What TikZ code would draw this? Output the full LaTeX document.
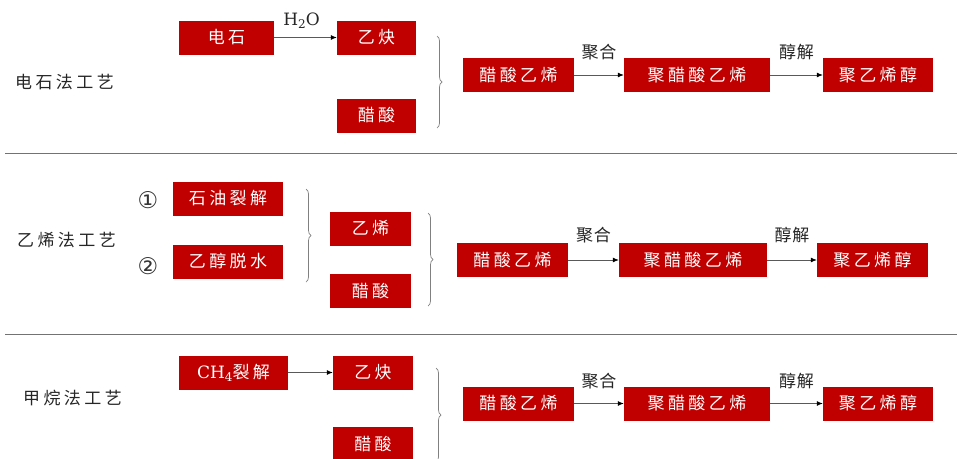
\documentclass[tikz,border=0pt]{standalone}
\usepackage{fontspec}
\newfontfamily\cjk[LetterSpace=20]{Noto Sans CJK SC}
\newfontfamily\cjklbl[LetterSpace=5]{Noto Sans CJK SC}
\newfontfamily\dejavu{DejaVu Sans}
\newfontfamily\lserif{DejaVu Serif}
\usetikzlibrary{arrows.meta,decorations.pathreplacing}
\definecolor{boxred}{HTML}{C00000}
\begin{document}
\begin{tikzpicture}[x=1pt,y=-1pt,
  box/.style={fill=boxred, text=white, inner sep=0pt, minimum height=34pt, font=\cjk\fontsize{17}{17}\selectfont},
  lbl/.style={text=black!85, inner sep=0pt, font=\cjklbl\fontsize{17}{17}\selectfont},
  ttl/.style={text=black!85, inner sep=0pt, font=\cjk\fontsize{17}{17}\selectfont},
  circ/.style={text=black!80, inner sep=0pt, font=\dejavu\fontsize{23}{23}\selectfont},
  arr/.style={draw=black!65, line width=0.8pt, -{Latex[length=6pt,width=5pt,color=black]}},
  brc/.style={draw=black!50, line width=0.7pt, decorate, decoration={brace, amplitude=5pt}},
  sep/.style={draw=black!55, line width=0.8pt}]
\clip (0,0) rectangle (957,458);
\fill[white] (0,0) rectangle (957,458);

% separators
\coordinate (s1a) at (5,153); \coordinate (s1b) at (957,153);
\coordinate (s2a) at (5,334); \coordinate (s2b) at (957,334);
\draw[sep] (s1a) -- (s1b);
\draw[sep] (s2a) -- (s2b);

% ---------- top: 电石法 ----------
\node[ttl] (t1) at (64.5,82) {电石法工艺};
\node[box, minimum width=95pt] (ds) at (226.5,37.5) {电石};
\node[box, minimum width=79pt] (yq1) at (376.5,37.5) {乙炔};
\node[box, minimum width=79pt] (cs1) at (376.5,115.5) {醋酸};
\draw[arr] (ds) -- node[text=black!85, inner sep=0pt, font=\lserif\fontsize{17}{17}\selectfont, yshift=17pt, xshift=-4pt] (h2o) {H\raisebox{-3pt}{\fontsize{12}{12}\selectfont 2}O} (yq1);
\coordinate (b1t) at (437,36); \coordinate (b1b) at (437,128);
\draw[brc] (b1t) -- (b1b);
\node[box, minimum width=111pt] (vac1) at (518.5,75) {醋酸乙烯};
\node[box, minimum width=146pt] (pvac1) at (697,75) {聚醋酸乙烯};
\node[box, minimum width=110pt] (pva1) at (878,75) {聚乙烯醇};
\draw[arr] (vac1) -- node[lbl, yshift=23pt] (jh1) {聚合} (pvac1);
\draw[arr] (pvac1) -- node[lbl, yshift=23pt] (cj1) {醇解} (pva1);

% ---------- middle: 乙烯法 ----------
\node[ttl] (t2) at (66.5,240) {乙烯法工艺};
\node[circ] (n1) at (148,200) {①};
\node[circ] (n2) at (148,266) {②};
\node[box, minimum width=110pt] (sy) at (228,198.5) {石油裂解};
\node[box, minimum width=110pt] (yc) at (228,261.5) {乙醇脱水};
\coordinate (b2t) at (306,189); \coordinate (b2b) at (306,282);
\draw[brc] (b2t) -- (b2b);
\node[box, minimum width=81pt] (yx) at (370.5,228.5) {乙烯};
\node[box, minimum width=81pt] (cs2) at (370.5,291) {醋酸};
\coordinate (b3t) at (428,213); \coordinate (b3b) at (428,306);
\draw[brc] (b3t) -- (b3b);
\node[box, minimum width=111pt] (vac2) at (512.5,260) {醋酸乙烯};
\node[box, minimum width=148pt] (pvac2) at (693,260) {聚醋酸乙烯};
\node[box, minimum width=111pt] (pva2) at (872.5,260) {聚乙烯醇};
\draw[arr] (vac2) -- node[lbl, yshift=25pt] (jh2) {聚合} (pvac2);
\draw[arr] (pvac2) -- node[lbl, yshift=25pt] (cj2) {醇解} (pva2);

% ---------- bottom: 甲烷法 ----------
\node[ttl] (t3) at (72.5,398) {甲烷法工艺};
\node[box, minimum width=109pt] (ch4) at (233.5,372.5) {{\lserif CH\raisebox{-3pt}{\fontsize{12}{12}\selectfont 4}}裂解};
\node[box, minimum width=80pt] (yq3) at (373,372.5) {乙炔};
\node[box, minimum width=80pt] (cs3) at (373,444) {醋酸};
\draw[arr] (ch4) -- (yq3);
\coordinate (b4t) at (436,368); \coordinate (b4b) at (436,462);
\draw[brc] (b4t) -- (b4b);
\node[box, minimum width=111pt] (vac3) at (518.5,403.5) {醋酸乙烯};
\node[box, minimum width=146pt] (pvac3) at (697,403.5) {聚醋酸乙烯};
\node[box, minimum width=110pt] (pva3) at (878,403.5) {聚乙烯醇};
\draw[arr] (vac3) -- node[lbl, yshift=22pt] (jh3) {聚合} (pvac3);
\draw[arr] (pvac3) -- node[lbl, yshift=22pt] (cj3) {醇解} (pva3);
\end{tikzpicture}
\end{document}
